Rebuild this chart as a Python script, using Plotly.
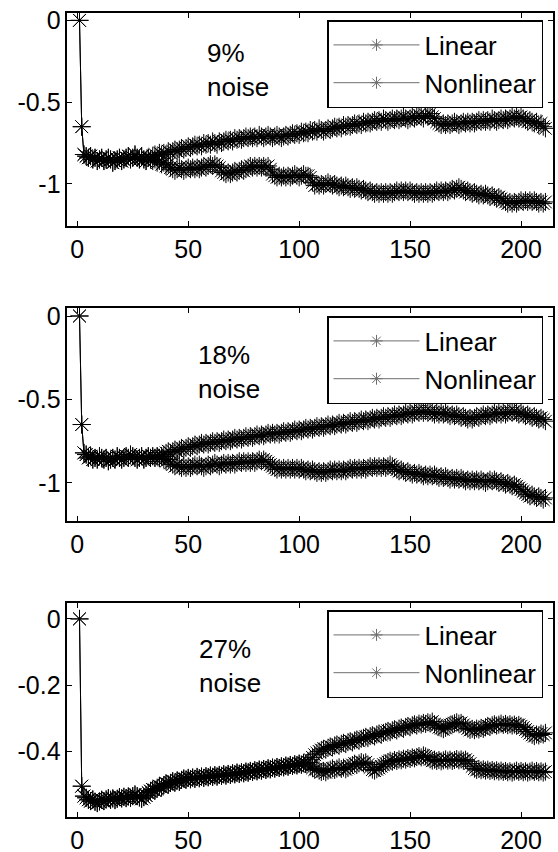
import plotly.graph_objects as go

# ---- data (x = iteration 1..211) ----
p1_common = [0.0, -0.65, -0.82, -0.83, -0.84, -0.83, -0.85, -0.84, -0.86, -0.85,
             -0.84, -0.86, -0.85, -0.84, -0.85, -0.87, -0.86, -0.85, -0.84, -0.86,
             -0.85, -0.84, -0.83, -0.85, -0.84, -0.82, -0.84, -0.85, -0.83, -0.85,
             -0.86, -0.84, -0.85]
p1_linear = [-0.83, -0.82, -0.83, -0.81, -0.82, -0.81, -0.82, -0.80, -0.81, -0.80,
             -0.79, -0.80, -0.79, -0.78, -0.79, -0.78, -0.77, -0.78, -0.77, -0.76,
             -0.77, -0.76, -0.77, -0.75, -0.76, -0.75, -0.76, -0.74, -0.75, -0.76,
             -0.74, -0.75, -0.74, -0.73, -0.74, -0.73, -0.74, -0.72, -0.73, -0.72,
             -0.73, -0.72, -0.71, -0.72, -0.71, -0.72, -0.71, -0.72, -0.70, -0.71,
             -0.72, -0.71, -0.70, -0.71, -0.72, -0.71, -0.70, -0.71, -0.72, -0.71,
             -0.70, -0.71, -0.70, -0.69, -0.70, -0.69, -0.70, -0.68, -0.69, -0.68,
             -0.69, -0.67, -0.68, -0.67, -0.68, -0.66, -0.67, -0.68, -0.67, -0.66,
             -0.67, -0.66, -0.65, -0.66, -0.65, -0.66, -0.64, -0.65, -0.64, -0.65,
             -0.64, -0.63, -0.64, -0.63, -0.64, -0.62, -0.63, -0.62, -0.63, -0.62,
             -0.61, -0.62, -0.61, -0.62, -0.60, -0.61, -0.62, -0.61, -0.60, -0.61,
             -0.60, -0.61, -0.60, -0.59, -0.60, -0.61, -0.60, -0.59, -0.60, -0.59,
             -0.58, -0.59, -0.60, -0.58, -0.59, -0.57, -0.59, -0.60, -0.62, -0.63,
             -0.64, -0.63, -0.64, -0.63, -0.64, -0.63, -0.62, -0.63, -0.64, -0.63,
             -0.62, -0.63, -0.62, -0.63, -0.62, -0.63, -0.62, -0.61, -0.62, -0.61,
             -0.62, -0.61, -0.62, -0.60, -0.61, -0.62, -0.61, -0.60, -0.61, -0.60,
             -0.61, -0.60, -0.59, -0.60, -0.59, -0.60, -0.59, -0.60, -0.61, -0.62,
             -0.61, -0.62, -0.63, -0.62, -0.64, -0.63, -0.65, -0.66]
p1_nonlinear = [-0.86, -0.85, -0.87, -0.86, -0.88, -0.87, -0.89, -0.88, -0.90, -0.91,
                -0.92, -0.91, -0.90, -0.91, -0.92, -0.91, -0.90, -0.91, -0.90, -0.91,
                -0.90, -0.91, -0.90, -0.89, -0.90, -0.89, -0.88, -0.89, -0.88, -0.89,
                -0.90, -0.92, -0.93, -0.94, -0.93, -0.94, -0.93, -0.92, -0.93, -0.92,
                -0.91, -0.92, -0.91, -0.90, -0.89, -0.90, -0.89, -0.90, -0.89, -0.90,
                -0.89, -0.90, -0.89, -0.91, -0.94, -0.95, -0.96, -0.95, -0.96, -0.95,
                -0.96, -0.95, -0.96, -0.95, -0.94, -0.95, -0.96, -0.95, -0.94, -0.95,
                -0.95, -0.96, -0.99, -1.01, -1.00, -1.01, -1.00, -1.01, -1.00, -0.99,
                -1.00, -1.01, -1.00, -1.01, -1.02, -1.01, -1.02, -1.01, -1.02, -1.03,
                -1.02, -1.03, -1.02, -1.03, -1.04, -1.03, -1.04, -1.05, -1.04, -1.05,
                -1.06, -1.05, -1.06, -1.05, -1.06, -1.05, -1.06, -1.05, -1.06, -1.05,
                -1.04, -1.05, -1.04, -1.05, -1.04, -1.05, -1.04, -1.05, -1.06, -1.05,
                -1.06, -1.05, -1.06, -1.05, -1.06, -1.05, -1.06, -1.05, -1.04, -1.05,
                -1.04, -1.05, -1.04, -1.05, -1.04, -1.03, -1.04, -1.03, -1.02, -1.03,
                -1.04, -1.05, -1.04, -1.05, -1.06, -1.05, -1.06, -1.07, -1.06, -1.07,
                -1.06, -1.07, -1.08, -1.07, -1.08, -1.09, -1.08, -1.09, -1.10, -1.11,
                -1.12, -1.11, -1.12, -1.11, -1.12, -1.11, -1.10, -1.11, -1.10, -1.11,
                -1.10, -1.11, -1.10, -1.11, -1.12, -1.11, -1.12, -1.11]

p2_common = [0.0, -0.65, -0.82, -0.83, -0.85, -0.84, -0.86, -0.85, -0.86, -0.84,
             -0.85, -0.86, -0.85, -0.87, -0.86, -0.85, -0.86, -0.84, -0.85, -0.86,
             -0.85, -0.84, -0.85, -0.83, -0.84, -0.85, -0.86, -0.85, -0.84, -0.86,
             -0.85, -0.84, -0.85, -0.84, -0.85, -0.84, -0.85, -0.84]
p2_linear = [-0.83, -0.82, -0.81, -0.82, -0.81, -0.80, -0.81, -0.80, -0.79, -0.80,
             -0.79, -0.78, -0.79, -0.78, -0.77, -0.78, -0.77, -0.76, -0.77, -0.76,
             -0.77, -0.76, -0.75, -0.76, -0.75, -0.76, -0.75, -0.74, -0.75, -0.74,
             -0.75, -0.74, -0.73, -0.74, -0.73, -0.74, -0.73, -0.72, -0.73, -0.72,
             -0.73, -0.72, -0.71, -0.72, -0.71, -0.72, -0.71, -0.70, -0.71, -0.70,
             -0.71, -0.70, -0.71, -0.70, -0.69, -0.70, -0.69, -0.70, -0.69, -0.68,
             -0.69, -0.68, -0.69, -0.68, -0.67, -0.68, -0.67, -0.68, -0.67, -0.66,
             -0.67, -0.66, -0.67, -0.66, -0.65, -0.66, -0.65, -0.66, -0.65, -0.64,
             -0.65, -0.64, -0.65, -0.64, -0.63, -0.64, -0.63, -0.64, -0.63, -0.62,
             -0.63, -0.62, -0.63, -0.62, -0.61, -0.62, -0.61, -0.62, -0.61, -0.60,
             -0.61, -0.60, -0.61, -0.60, -0.59, -0.60, -0.59, -0.60, -0.59, -0.58,
             -0.59, -0.58, -0.59, -0.58, -0.57, -0.58, -0.57, -0.58, -0.57, -0.58,
             -0.57, -0.58, -0.59, -0.58, -0.59, -0.58, -0.59, -0.58, -0.59, -0.60,
             -0.59, -0.60, -0.59, -0.60, -0.61, -0.60, -0.61, -0.62, -0.61, -0.62,
             -0.61, -0.60, -0.61, -0.60, -0.59, -0.60, -0.59, -0.60, -0.59, -0.58,
             -0.59, -0.58, -0.59, -0.58, -0.59, -0.58, -0.57, -0.58, -0.57, -0.58,
             -0.59, -0.58, -0.59, -0.60, -0.59, -0.60, -0.61, -0.60, -0.61, -0.62,
             -0.61, -0.62, -0.63]
p2_nonlinear = [-0.86, -0.87, -0.86, -0.88, -0.89, -0.90, -0.89, -0.90, -0.91, -0.90,
                -0.91, -0.90, -0.91, -0.90, -0.89, -0.90, -0.89, -0.90, -0.91, -0.90,
                -0.89, -0.90, -0.89, -0.88, -0.89, -0.90, -0.89, -0.88, -0.89, -0.88,
                -0.89, -0.88, -0.89, -0.88, -0.87, -0.88, -0.87, -0.88, -0.87, -0.88,
                -0.87, -0.88, -0.87, -0.86, -0.87, -0.86, -0.87, -0.88, -0.89, -0.90,
                -0.91, -0.92, -0.91, -0.92, -0.91, -0.92, -0.91, -0.92, -0.91, -0.92,
                -0.91, -0.92, -0.91, -0.92, -0.93, -0.92, -0.93, -0.92, -0.93, -0.94,
                -0.93, -0.94, -0.93, -0.94, -0.93, -0.92, -0.93, -0.92, -0.93, -0.92,
                -0.93, -0.92, -0.93, -0.92, -0.91, -0.92, -0.91, -0.92, -0.91, -0.92,
                -0.91, -0.92, -0.91, -0.90, -0.91, -0.90, -0.91, -0.90, -0.91, -0.90,
                -0.91, -0.90, -0.89, -0.90, -0.91, -0.92, -0.93, -0.92, -0.93, -0.94,
                -0.93, -0.94, -0.95, -0.94, -0.95, -0.94, -0.95, -0.96, -0.95, -0.96,
                -0.95, -0.96, -0.95, -0.96, -0.97, -0.96, -0.97, -0.96, -0.97, -0.98,
                -0.97, -0.98, -0.97, -0.98, -0.97, -0.98, -0.99, -0.98, -0.99, -0.98,
                -0.99, -0.98, -0.99, -0.98, -0.99, -1.00, -0.99, -0.98, -0.99, -0.98,
                -0.99, -1.00, -0.99, -1.00, -1.01, -1.00, -1.01, -1.02, -1.01, -1.02,
                -1.03, -1.04, -1.05, -1.06, -1.07, -1.08, -1.07, -1.08, -1.09, -1.08,
                -1.09, -1.10, -1.09]

p3_common = [0.0, -0.505, -0.535, -0.540, -0.546, -0.550, -0.545, -0.552, -0.556, -0.551,
             -0.546, -0.550, -0.545, -0.541, -0.546, -0.542, -0.547, -0.543, -0.538, -0.542,
             -0.537, -0.541, -0.536, -0.540, -0.535, -0.530, -0.535, -0.539, -0.543, -0.538,
             -0.533, -0.525, -0.520, -0.515, -0.518, -0.512, -0.505, -0.508, -0.502, -0.497,
             -0.500, -0.495, -0.490, -0.494, -0.488, -0.492, -0.486, -0.482, -0.485, -0.480,
             -0.484, -0.479, -0.483, -0.477, -0.481, -0.476, -0.480, -0.475, -0.478, -0.473,
             -0.477, -0.472, -0.476, -0.471, -0.474, -0.469, -0.473, -0.468, -0.471, -0.466,
             -0.469, -0.464, -0.468, -0.463, -0.466, -0.461, -0.464, -0.459, -0.462, -0.457,
             -0.460, -0.455, -0.458, -0.453, -0.456, -0.451, -0.454, -0.449, -0.452, -0.447,
             -0.450, -0.445, -0.448, -0.443, -0.446, -0.441, -0.444, -0.439, -0.442, -0.437,
             -0.440, -0.435, -0.438, -0.433]
p3_linear = [-0.425, -0.418, -0.410, -0.405, -0.400, -0.396, -0.392, -0.395, -0.389, -0.385,
             -0.388, -0.382, -0.379, -0.383, -0.377, -0.374, -0.378, -0.372, -0.369, -0.373,
             -0.367, -0.364, -0.368, -0.362, -0.359, -0.356, -0.360, -0.354, -0.351, -0.355,
             -0.349, -0.346, -0.350, -0.344, -0.341, -0.338, -0.342, -0.336, -0.333, -0.337,
             -0.331, -0.328, -0.332, -0.326, -0.323, -0.327, -0.321, -0.318, -0.322, -0.316,
             -0.319, -0.314, -0.317, -0.312, -0.315, -0.310, -0.318, -0.322, -0.327, -0.330,
             -0.333, -0.329, -0.325, -0.321, -0.318, -0.315, -0.312, -0.316, -0.314, -0.320,
             -0.326, -0.331, -0.335, -0.332, -0.336, -0.331, -0.334, -0.329, -0.332, -0.327,
             -0.323, -0.326, -0.321, -0.318, -0.322, -0.319, -0.316, -0.320, -0.317, -0.321,
             -0.318, -0.322, -0.319, -0.323, -0.320, -0.324, -0.328, -0.334, -0.340, -0.345,
             -0.350, -0.354, -0.349, -0.352, -0.346, -0.349, -0.344]
p3_nonlinear = [-0.445, -0.450, -0.455, -0.452, -0.458, -0.462, -0.459, -0.463, -0.458, -0.455,
                -0.451, -0.456, -0.452, -0.448, -0.453, -0.449, -0.454, -0.450, -0.445, -0.441,
                -0.437, -0.441, -0.436, -0.432, -0.436, -0.433, -0.440, -0.448, -0.455, -0.458,
                -0.454, -0.450, -0.445, -0.440, -0.436, -0.432, -0.428, -0.431, -0.426, -0.429,
                -0.424, -0.427, -0.422, -0.425, -0.420, -0.423, -0.418, -0.421, -0.417, -0.414,
                -0.418, -0.412, -0.415, -0.419, -0.424, -0.428, -0.425, -0.429, -0.426, -0.430,
                -0.427, -0.424, -0.428, -0.425, -0.429, -0.426, -0.423, -0.427, -0.424, -0.428,
                -0.425, -0.430, -0.437, -0.445, -0.452, -0.456, -0.453, -0.457, -0.454, -0.458,
                -0.455, -0.459, -0.456, -0.460, -0.457, -0.461, -0.458, -0.462, -0.459, -0.463,
                -0.460, -0.464, -0.461, -0.458, -0.462, -0.459, -0.463, -0.460, -0.464, -0.461,
                -0.458, -0.462, -0.459, -0.463, -0.460, -0.464, -0.461]

series_names = ["Linear", "Nonlinear"]
noise_labels = ["9%<br>noise", "18%<br>noise", "27%<br>noise"]
x_ticks = [0, 50, 100, 150, 200]
y_ticks = [[0, -0.5, -1], [0, -0.5, -1], [0, -0.2, -0.4]]
y_ticktext = [["0", "-0.5", "-1"], ["0", "-0.5", "-1"], ["0", "-0.2", "-0.4"]]

panels = [
    (p1_common + p1_linear, p1_common + p1_nonlinear),
    (p2_common + p2_linear, p2_common + p2_nonlinear),
    (p3_common + p3_linear, p3_common + p3_nonlinear),
]

# ---- layout: pixel positions measured on the 558x852 picture ----
W, H = 558, 852
FONT = "Liberation Sans, Arial, Helvetica, sans-serif"
plot_left, plot_right = 67.3, 553.2
plot_boxes = [(13, 226), (308, 521), (603, 817)]
y_ranges = [[-1.257, 0.045], [-1.228, 0.048], [-0.598, 0.048]]
legend_tops = [20, 316, 610]
label_pos = [(207, 70), (198, 372), (199, 666)]


def px_x(v):
    return v / W


def px_y(v):
    return 1 - v / H


fig = go.Figure()
for i, series in enumerate(panels):
    ax = "" if i == 0 else str(i + 1)
    leg = "legend" if i == 0 else "legend%d" % (i + 1)
    for name, ys in zip(series_names, series):
        fig.add_trace(go.Scatter(
            x=list(range(1, len(ys) + 1)), y=ys, name=name,
            mode="lines+markers", xaxis="x" + ax, yaxis="y" + ax,
            showlegend=False,
            line=dict(color="black", width=1),
            marker=dict(symbol="asterisk-open", size=15,
                        line=dict(color="rgb(95,95,95)", width=1)),
        ))
    # legend entries with a smaller marker, like the original legend glyphs
    for name in series_names:
        fig.add_trace(go.Scatter(
            x=[None], y=[None], name=name, mode="lines+markers",
            xaxis="x" + ax, yaxis="y" + ax, legend=leg, legendgroup=name + ax,
            line=dict(color="rgb(110,110,110)", width=1),
            marker=dict(symbol="asterisk-open", size=10,
                        line=dict(color="black", width=1)),
        ))

layout = dict(
    width=W, height=H, margin=dict(l=0, r=0, t=0, b=0),
    paper_bgcolor="white", plot_bgcolor="white",
    font=dict(family=FONT, size=25, color="black"),
    showlegend=True, annotations=[],
)
axis_common = dict(showline=True, linecolor="black", linewidth=1.5, mirror="ticks",
                   ticks="inside", ticklen=5, tickcolor="black", tickwidth=1,
                   showgrid=False, zeroline=False, automargin=False,
                   ticklabeloverflow="allow",
                   tickfont=dict(family=FONT, size=25, color="black"))
for i in range(3):
    ax = "" if i == 0 else str(i + 1)
    top, bot = plot_boxes[i]
    layout["xaxis" + ax] = dict(axis_common, domain=[px_x(plot_left), px_x(plot_right)],
                                range=[-4.5, 214.5], tickvals=x_ticks,
                                ticktext=[str(t) for t in x_ticks],
                                anchor="y" + ax, ticklabelstandoff=0)
    layout["yaxis" + ax] = dict(axis_common, domain=[px_y(bot), px_y(top)],
                                range=y_ranges[i], tickvals=y_ticks[i],
                                ticktext=y_ticktext[i], anchor="x" + ax,
                                ticklabelstandoff=0)
    leg = "legend" if i == 0 else "legend%d" % (i + 1)
    layout[leg] = dict(x=px_x(327), y=px_y(legend_tops[i]), xanchor="left", yanchor="top",
                       bordercolor="black", borderwidth=1.5, bgcolor="white",
                       font=dict(family=FONT, size=26, color="black"),
                       itemwidth=86, tracegroupgap=1)
    lx, ly = label_pos[i]
    layout["annotations"].append(dict(
        text=noise_labels[i], xref="paper", yref="paper", x=px_x(lx), y=px_y(ly),
        xanchor="left", yanchor="middle", align="left", showarrow=False,
        xshift=-2, font=dict(family=FONT, size=26, color="black")))

fig.update_layout(**layout)
# drop the default page margin so the figure sits at the window's corner
fig.write_html("out.html", config={"displayModeBar": False},
               post_script="document.body.style.margin='0';"
               "document.documentElement.style.overflow='hidden';")
